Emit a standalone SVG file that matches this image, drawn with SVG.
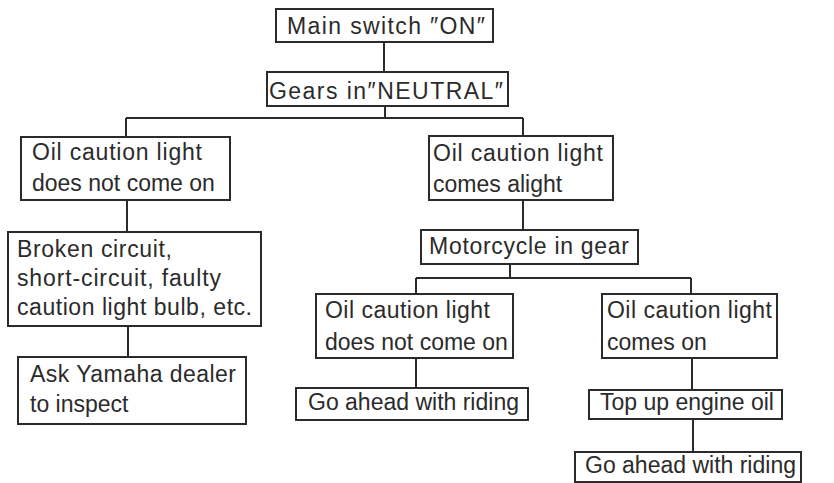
<svg xmlns="http://www.w3.org/2000/svg" width="834" height="483" viewBox="0 0 834 483">
<style>
rect.b{fill:#fff;stroke:#2b2b2b;stroke-width:2}
text{font-family:"Liberation Sans",Arial,sans-serif;font-size:23px;fill:#2b2b2b}
.c line{stroke:#2b2b2b;stroke-width:2}
</style>
<rect width="834" height="483" fill="#fff"/>
<g class="c" id="connectors">
<line x1="384" y1="42" x2="384" y2="72"/>
<line x1="385" y1="106" x2="385" y2="118"/>
<line x1="126" y1="118" x2="523" y2="118"/>
<line x1="126" y1="118" x2="126" y2="137"/>
<line x1="523" y1="118" x2="523" y2="136"/>
<line x1="127" y1="200" x2="127" y2="232"/>
<line x1="128" y1="326" x2="128" y2="357"/>
<line x1="523" y1="200" x2="523" y2="230"/>
<line x1="510" y1="264" x2="510" y2="278"/>
<line x1="416" y1="278" x2="691" y2="278"/>
<line x1="416" y1="278" x2="416" y2="294"/>
<line x1="691" y1="278" x2="691" y2="294"/>
<line x1="416" y1="358" x2="416" y2="388"/>
<line x1="692" y1="358" x2="692" y2="390"/>
<line x1="693" y1="419" x2="693" y2="452"/>
</g>
<g id="n1"><rect class="b" x="276" y="9" width="217" height="33"/><text x="287" y="34" textLength="198" lengthAdjust="spacing">Main switch ″ON″</text></g>
<g id="n2"><rect class="b" x="267" y="72" width="241" height="34"/><text x="269" y="99" textLength="234" lengthAdjust="spacing">Gears in″NEUTRAL″</text></g>
<g id="n3"><rect class="b" x="21" y="137" width="209" height="63"/><text x="32" y="160" textLength="170" lengthAdjust="spacing">Oil caution light</text><text x="32" y="191">does not come on</text></g>
<g id="n4"><rect class="b" x="429" y="136" width="184" height="64"/><text x="433" y="161" textLength="170" lengthAdjust="spacing">Oil caution light</text><text x="433" y="192">comes alight</text></g>
<g id="n5"><rect class="b" x="8" y="232" width="253" height="94"/><text x="17" y="257" textLength="155" lengthAdjust="spacing">Broken circuit,</text><text x="17" y="286" textLength="204" lengthAdjust="spacing">short-circuit, faulty</text><text x="17" y="315" textLength="235" lengthAdjust="spacing">caution light bulb, etc.</text></g>
<g id="n6"><rect class="b" x="18" y="357" width="228" height="67"/><text x="30" y="382" textLength="206" lengthAdjust="spacing">Ask Yamaha dealer</text><text x="30" y="412">to inspect</text></g>
<g id="n7"><rect class="b" x="421" y="230" width="217" height="34"/><text x="429" y="254" textLength="200" lengthAdjust="spacing">Motorcycle in gear</text></g>
<g id="n8"><rect class="b" x="316" y="294" width="197" height="64"/><text x="325" y="318" textLength="165" lengthAdjust="spacing">Oil caution light</text><text x="325" y="350">does not come on</text></g>
<g id="n9"><rect class="b" x="602" y="294" width="175" height="64"/><text x="607" y="318" textLength="165" lengthAdjust="spacing">Oil caution light</text><text x="607" y="350">comes on</text></g>
<g id="n10"><rect class="b" x="296" y="388" width="232" height="32"/><text x="308" y="410">Go ahead with riding</text></g>
<g id="n11"><rect class="b" x="589" y="390" width="193" height="29"/><text x="600" y="410">Top up engine oil</text></g>
<g id="n12"><rect class="b" x="575" y="452" width="226" height="30"/><text x="585" y="473">Go ahead with riding</text></g>
</svg>
